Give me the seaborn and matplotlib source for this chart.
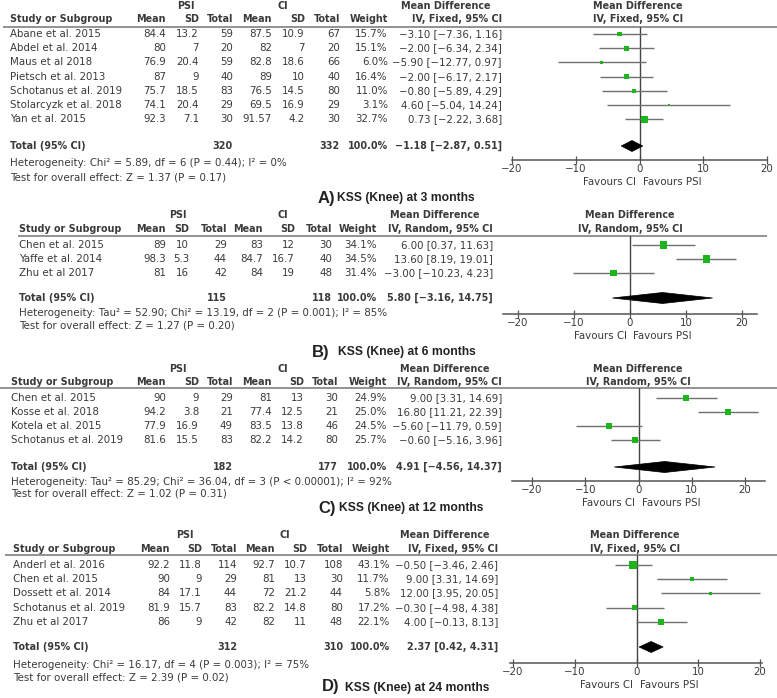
import numpy as np
import pandas as pd
import matplotlib
matplotlib.use("Agg")
import matplotlib.pyplot as plt
from matplotlib.patches import Polygon
import seaborn as sns

# ── data ──────────────────────────────────────────────────────────────────────
A_STUDY = ["Abane et al. 2015", "Abdel et al. 2014", "Maus et al 2018", "Pietsch et al. 2013",
           "Schotanus et al. 2019", "Stolarcyzk et al. 2018", "Yan et al. 2015"]
A_PSI_MEAN = [84.4, 80, 76.9, 87, 75.7, 74.1, 92.3]
A_PSI_SD = [13.2, 7, 20.4, 9, 18.5, 20.4, 7.1]
A_PSI_N = [59, 20, 59, 40, 83, 29, 30]
A_CI_MEAN = [87.5, 82, 82.8, 89, 76.5, 69.5, 91.57]
A_CI_SD = [10.9, 7, 18.6, 10, 14.5, 16.9, 4.2]
A_CI_N = [67, 20, 66, 40, 80, 29, 30]
A_WEIGHT = [15.7, 15.1, 6.0, 16.4, 11.0, 3.1, 32.7]
A_MD = [-3.10, -2.00, -5.90, -2.00, -0.80, 4.60, 0.73]
A_LO = [-7.36, -6.34, -12.77, -6.17, -5.89, -5.04, -2.22]
A_HI = [1.16, 2.34, 0.97, 2.17, 4.29, 14.24, 3.68]
A_TOTAL_N = [320, 332]
A_POOLED = [-1.18, -2.87, 0.51]

B_STUDY = ["Chen et al. 2015", "Yaffe et al. 2014", "Zhu et al 2017"]
B_PSI_MEAN = [89, 98.3, 81]
B_PSI_SD = [10, 5.3, 16]
B_PSI_N = [29, 44, 42]
B_CI_MEAN = [83, 84.7, 84]
B_CI_SD = [12, 16.7, 19]
B_CI_N = [30, 40, 48]
B_WEIGHT = [34.1, 34.5, 31.4]
B_MD = [6.00, 13.60, -3.00]
B_LO = [0.37, 8.19, -10.23]
B_HI = [11.63, 19.01, 4.23]
B_TOTAL_N = [115, 118]
B_POOLED = [5.80, -3.16, 14.75]

C_STUDY = ["Chen et al. 2015", "Kosse et al. 2018", "Kotela et al. 2015", "Schotanus et al. 2019"]
C_PSI_MEAN = [90, 94.2, 77.9, 81.6]
C_PSI_SD = [9, 3.8, 16.9, 15.5]
C_PSI_N = [29, 21, 49, 83]
C_CI_MEAN = [81, 77.4, 83.5, 82.2]
C_CI_SD = [13, 12.5, 13.8, 14.2]
C_CI_N = [30, 21, 46, 80]
C_WEIGHT = [24.9, 25.0, 24.5, 25.7]
C_MD = [9.00, 16.80, -5.60, -0.60]
C_LO = [3.31, 11.21, -11.79, -5.16]
C_HI = [14.69, 22.39, 0.59, 3.96]
C_TOTAL_N = [182, 177]
C_POOLED = [4.91, -4.56, 14.37]

D_STUDY = ["Anderl et al. 2016", "Chen et al. 2015", "Dossett et al. 2014",
           "Schotanus et al. 2019", "Zhu et al 2017"]
D_PSI_MEAN = [92.2, 90, 84, 81.9, 86]
D_PSI_SD = [11.8, 9, 17.1, 15.7, 9]
D_PSI_N = [114, 29, 44, 83, 42]
D_CI_MEAN = [92.7, 81, 72, 82.2, 82]
D_CI_SD = [10.7, 13, 21.2, 14.8, 11]
D_CI_N = [108, 30, 44, 80, 48]
D_WEIGHT = [43.1, 11.7, 5.8, 17.2, 22.1]
D_MD = [-0.50, 9.00, 12.00, -0.30, 4.00]
D_LO = [-3.46, 3.31, 3.95, -4.98, -0.13]
D_HI = [2.46, 14.69, 20.05, 4.38, 8.13]
D_TOTAL_N = [312, 310]
D_POOLED = [2.37, 0.42, 4.31]

METHODS = ["IV, Fixed, 95% CI", "IV, Random, 95% CI", "IV, Random, 95% CI", "IV, Fixed, 95% CI"]
HETERO = [
    "Heterogeneity: Chi\u00b2 = 5.89, df = 6 (P = 0.44); I\u00b2 = 0%",
    "Heterogeneity: Tau\u00b2 = 52.90; Chi\u00b2 = 13.19, df = 2 (P = 0.001); I\u00b2 = 85%",
    "Heterogeneity: Tau\u00b2 = 85.29; Chi\u00b2 = 36.04, df = 3 (P < 0.00001); I\u00b2 = 92%",
    "Heterogeneity: Chi\u00b2 = 16.17, df = 4 (P = 0.003); I\u00b2 = 75%",
]
OVERALL = [
    "Test for overall effect: Z = 1.37 (P = 0.17)",
    "Test for overall effect: Z = 1.27 (P = 0.20)",
    "Test for overall effect: Z = 1.02 (P = 0.31)",
    "Test for overall effect: Z = 2.39 (P = 0.02)",
]
LETTERS = ["A)", "B)", "C)", "D)"]
TITLES = ["KSS (Knee) at 3 months", "KSS (Knee) at 6 months",
          "KSS (Knee) at 12 months", "KSS (Knee) at 24 months"]
COL_HEADS = ["Mean", "SD", "Total", "Mean", "SD", "Total", "Weight"]
X_TICKS = [-20, -10, 0, 10, 20]

# ── layout (pixels) ───────────────────────────────────────────────────────────
W, H = 777, 698
LAYOUT = [
    dict(top_y=6, head_y=19, line_y=27, line_x=(3, 777), row0=34, pitch=14.2, total_y=146,
         het_y=163, test_y=177, study_x=10, cols=[166, 199, 233, 272, 305, 340, 388],
         psi_x=186, ci_x=283, md_x=446, md_right=502, plot_x=638, axis_y=160,
         m20=512, p20=767, xlim=(-20, 20), title_y=198, letter_x=318, title_x=337),
    dict(top_y=215, head_y=229, line_y=236, line_x=(18, 767), row0=245, pitch=14, total_y=298,
         het_y=313, test_y=326, study_x=19, cols=[166, 189, 227, 263, 295, 332, 377],
         psi_x=178, ci_x=283, md_x=435, md_right=493, plot_x=630, axis_y=314,
         m20=518, p20=742, xlim=(-22.7, 22.7), title_y=352, letter_x=312, title_x=338),
    dict(top_y=369, head_y=382, line_y=388, line_x=(0, 777), row0=398, pitch=14, total_y=467,
         het_y=482, test_y=494, study_x=11, cols=[166, 199, 233, 272, 304, 338, 387],
         psi_x=178, ci_x=283, md_x=445, md_right=502, plot_x=638, axis_y=481,
         m20=532, p20=745, xlim=(-23.75, 23.75), title_y=508, letter_x=318, title_x=339),
    dict(top_y=535, head_y=549, line_y=555, line_x=(5, 777), row0=565, pitch=14.2, total_y=647,
         het_y=665, test_y=678, study_x=13, cols=[170, 202, 237, 275, 307, 343, 390],
         psi_x=185, ci_x=285, md_x=445, md_right=498, plot_x=635, axis_y=663,
         m20=513, p20=760, xlim=(-20.5, 20.3), title_y=687, letter_x=322, title_x=345),
]

TXT = "#3a3a3a"
GREEN = "#1cb51c"
CI_GREY = "#707070"
FS = 7.35         # regular text
FSB = 6.95        # bold headers
SQ_K = 0.75       # marker area per % weight

sns.set_theme(style="white")
plt.rcParams["font.family"] = ["DejaVu Sans"]
plt.rcParams["text.color"] = TXT


def fmt(v):
    return f"{v:g}"


def fmt_md(m, lo, hi):
    s = f"{m:.2f} [{lo:.2f}, {hi:.2f}]"
    return s.replace("-", "\u2212")


def draw_panel(fig, cv, i, d, lay):
    n = len(d["study"])
    rows = [lay["row0"] + k * lay["pitch"] for k in range(n)]
    bold = dict(fontsize=FSB, fontweight="bold", va="center")
    norm = dict(fontsize=FS, va="center")

    # table headers
    cv.text(lay["psi_x"], lay["top_y"], "PSI", ha="center", **bold)
    cv.text(lay["ci_x"], lay["top_y"], "CI", ha="center", **bold)
    cv.text(lay["md_x"], lay["top_y"], "Mean Difference", ha="center", **bold)
    cv.text(lay["plot_x"], lay["top_y"], "Mean Difference", ha="center", **bold)
    cv.text(lay["study_x"], lay["head_y"], "Study or Subgroup", ha="left", **bold)
    for x, h in zip(lay["cols"], COL_HEADS):
        cv.text(x, lay["head_y"], h, ha="right", **bold)
    cv.text(lay["md_right"], lay["head_y"], METHODS[i], ha="right", **bold)
    cv.text(lay["plot_x"], lay["head_y"], METHODS[i], ha="center", **bold)
    cv.hlines(lay["line_y"], *lay["line_x"], color="#8a8a8a", lw=1.3)

    # study rows
    for k in range(n):
        y = rows[k]
        vals = [fmt(d["psi_mean"][k]), fmt(d["psi_sd"][k]), fmt(d["psi_n"][k]),
                fmt(d["ci_mean"][k]), fmt(d["ci_sd"][k]), fmt(d["ci_n"][k]),
                f"{d['weight'][k]:.1f}%"]
        cv.text(lay["study_x"], y, d["study"][k], ha="left", **norm)
        for x, v in zip(lay["cols"], vals):
            cv.text(x, y, v, ha="right", **norm)
        cv.text(lay["md_right"], y, fmt_md(d["md"][k], d["lo"][k], d["hi"][k]), ha="right", **norm)

    # totals
    ty = lay["total_y"]
    cv.text(lay["study_x"], ty, "Total (95% CI)", ha="left", **bold)
    cv.text(lay["cols"][2], ty, str(d["total_n"][0]), ha="right", **bold)
    cv.text(lay["cols"][5], ty, str(d["total_n"][1]), ha="right", **bold)
    cv.text(lay["cols"][6], ty, "100.0%", ha="right", **bold)
    cv.text(lay["md_right"], ty, fmt_md(*d["pooled"]), ha="right", **bold)
    cv.text(lay["study_x"], lay["het_y"], HETERO[i], ha="left", **norm)
    cv.text(lay["study_x"], lay["test_y"], OVERALL[i], ha="left", **norm)

    # panel title
    cv.text(lay["letter_x"], lay["title_y"], LETTERS[i], ha="left", va="center",
            fontsize=12, fontweight="bold", family="Liberation Sans", color="#222222")
    cv.text(lay["title_x"], lay["title_y"] + 0.5, TITLES[i], ha="left", va="center",
            fontsize=8.7, fontweight="bold", family="Liberation Sans", color="#222222")

    # forest plot axes
    scale = (lay["p20"] - lay["m20"]) / 40
    xa, xb = lay["xlim"]
    left = lay["m20"] + (xa + 20) * scale
    width = (xb - xa) * scale
    ax = fig.add_axes([left / W, 1 - lay["axis_y"] / H, width / W,
                       (lay["axis_y"] - lay["line_y"]) / H])
    ax.patch.set_alpha(0)

    df = pd.DataFrame({"md": d["md"], "row": rows, "weight": d["weight"]})
    ax.hlines(rows, d["lo"], d["hi"], color=CI_GREY, lw=1.0, zorder=2)
    wmin, wmax = min(d["weight"]), max(d["weight"])
    sns.scatterplot(data=df, x="md", y="row", size="weight",
                    sizes=(wmin * SQ_K, wmax * SQ_K), size_norm=(wmin, wmax),
                    marker="s", color=GREEN, edgecolor="none", linewidth=0,
                    legend=False, ax=ax, zorder=3)
    m, lo, hi = d["pooled"]
    ax.add_patch(Polygon([(lo, ty), (m, ty - 5.5), (hi, ty), (m, ty + 5.5)],
                         closed=True, facecolor="black", edgecolor="black", lw=0.5, zorder=4))
    ax.axvline(0, color="#444444", lw=1.0, zorder=1)

    ax.set_xlim(xa, xb)
    ax.set_ylim(lay["axis_y"], lay["line_y"])
    ax.set_xlabel("")
    ax.set_ylabel("")
    ax.set_yticks([])
    ax.set_xticks(X_TICKS)
    ax.tick_params(axis="x", bottom=True, direction="inout", length=5.5, width=0.9,
                   color="#555555", labelsize=FS, labelcolor=TXT, pad=0.3)
    for s in ["top", "left", "right"]:
        ax.spines[s].set_visible(False)
    ax.spines["bottom"].set_color("#555555")
    ax.spines["bottom"].set_linewidth(1.1)

    ax.annotate("Favours CI", xy=(0, 0), xycoords=("data", "axes fraction"),
                xytext=(-2.5, -15.5), textcoords="offset points",
                ha="right", va="center", fontsize=FS, color=TXT)
    ax.annotate("Favours PSI", xy=(0, 0), xycoords=("data", "axes fraction"),
                xytext=(2.5, -15.5), textcoords="offset points",
                ha="left", va="center", fontsize=FS, color=TXT)


PANELS = [
    dict(study=A_STUDY, psi_mean=A_PSI_MEAN, psi_sd=A_PSI_SD, psi_n=A_PSI_N,
         ci_mean=A_CI_MEAN, ci_sd=A_CI_SD, ci_n=A_CI_N, weight=A_WEIGHT,
         md=A_MD, lo=A_LO, hi=A_HI, total_n=A_TOTAL_N, pooled=A_POOLED),
    dict(study=B_STUDY, psi_mean=B_PSI_MEAN, psi_sd=B_PSI_SD, psi_n=B_PSI_N,
         ci_mean=B_CI_MEAN, ci_sd=B_CI_SD, ci_n=B_CI_N, weight=B_WEIGHT,
         md=B_MD, lo=B_LO, hi=B_HI, total_n=B_TOTAL_N, pooled=B_POOLED),
    dict(study=C_STUDY, psi_mean=C_PSI_MEAN, psi_sd=C_PSI_SD, psi_n=C_PSI_N,
         ci_mean=C_CI_MEAN, ci_sd=C_CI_SD, ci_n=C_CI_N, weight=C_WEIGHT,
         md=C_MD, lo=C_LO, hi=C_HI, total_n=C_TOTAL_N, pooled=C_POOLED),
    dict(study=D_STUDY, psi_mean=D_PSI_MEAN, psi_sd=D_PSI_SD, psi_n=D_PSI_N,
         ci_mean=D_CI_MEAN, ci_sd=D_CI_SD, ci_n=D_CI_N, weight=D_WEIGHT,
         md=D_MD, lo=D_LO, hi=D_HI, total_n=D_TOTAL_N, pooled=D_POOLED),
]

fig = plt.figure(figsize=(W / 100, H / 100), dpi=100)
fig.patch.set_facecolor("white")
cv = fig.add_axes([0, 0, 1, 1])
cv.set_xlim(0, W)
cv.set_ylim(H, 0)
cv.axis("off")

for i, (d, lay) in enumerate(zip(PANELS, LAYOUT)):
    draw_panel(fig, cv, i, d, lay)

fig.savefig("out.png", dpi=100, facecolor="white")
